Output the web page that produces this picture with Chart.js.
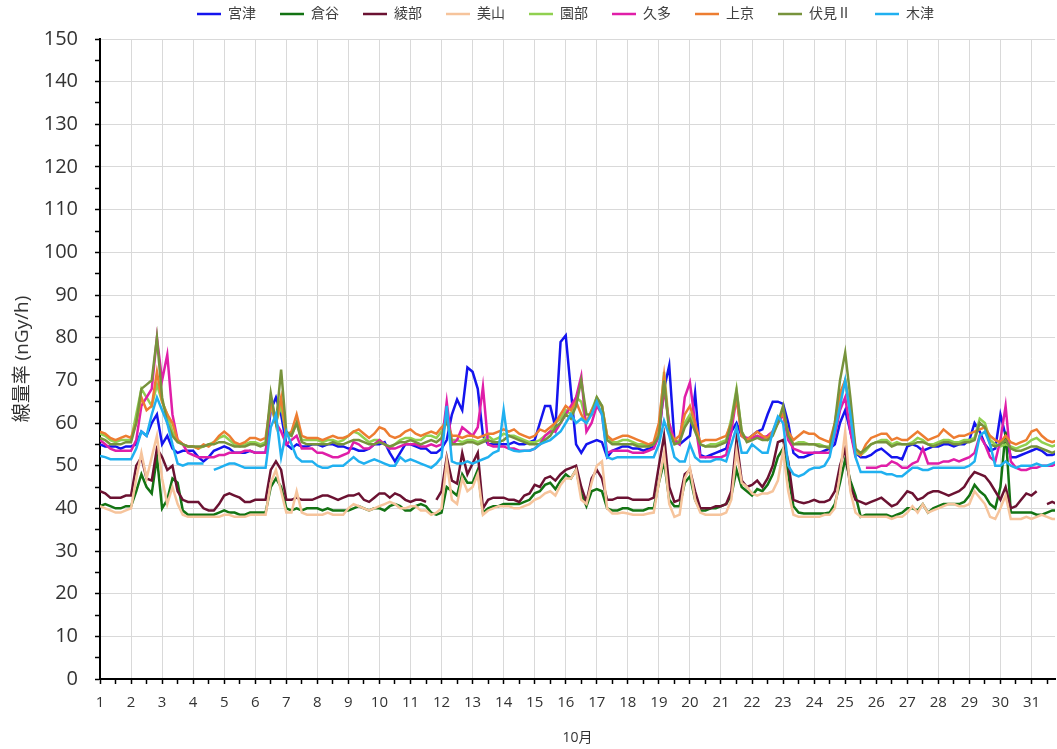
<!DOCTYPE html>
<html><head><meta charset="utf-8">
<script src="https://cdn.jsdelivr.net/npm/chart.js@4.4.1/dist/chart.umd.min.js"></script>
<style>html,body{margin:0;padding:0;overflow:hidden;background:#fff}#wrap{width:1057px;height:749px}</style>
</head><body><div id="wrap"><canvas id="c" width="1057" height="749"></canvas></div>
<script>
// Readings sampled every 4 hours (6 samples per day) from 10/1 0:00
const FIRST_DAY = 1;
const LAST_VISIBLE_DAY = 31.76;
const SAMPLES_PER_DAY = 6;
const stationNames = ['宮津','倉谷','綾部','美山','園部','久多','上京','伏見Ⅱ','木津'];
const xAxisTitle = '10月';
const yAxisTitle = '線量率 (nGy/h)';

const miyazu = [
55,54.5,54.5,54.5,54,54.5,
54.5,55,58,57,60,62,
55,57,54,53,53.5,53.5,
53.5,52,51,52,53.5,54,
54.5,54,53,53,53,53.5,
53,53,53,63,66,62,
55,54,55,54.5,54.5,55,
55,54.5,55,55,54.5,54.5,
54,54,53.5,53.5,54,55,
55,55.5,53,51,53,55,
55,54.5,54,54,53,53,
54,56,62,65.5,63,73,
72,68,57,55,55,55,
55,55,55.5,55,55,55.5,
56,60,64,64,59,79,
80.5,67.5,55,53,55,55.5,
56,55.5,52,53.5,54,54.5,
54.5,54,54,53.5,54,54.5,
57,68,73.5,56,55,56,
57,67,52.5,52,52.5,53,
53.5,54,58,60,57,56,
57,58,58.5,62,65,65,
64.5,60,53,52,52,52.5,
53,53,53.5,54,55,60,
63,58,53,52,52,52.5,
53.5,54,53,52,52,51.5,
54.5,55,54.5,53.5,54,54.5,
54.5,55,55,54.5,55,55,
56,60,58,55,53.5,54,
62,57,52,52,52.5,53,
53.5,54,53.5,52.5,52.5,53];

const kuratani = [
40.5,41,40.5,40,40,40.5,
40.5,44,48,45,43.5,52,
40,42,47,46,39.5,38.5,
38.5,38.5,38.5,38.5,38.5,39,
39.5,39,39,38.5,38.5,39,
39,39,39,45,47,45,
40,39.5,40,39.5,40,40,
40,39.5,40,39.5,39.5,39.5,
39.5,40,40.5,40,39.5,40,
40,39.5,40.5,41,40.5,39.5,
39.5,40.5,41,40.5,39,38.5,
39,45,44,43,48,46,
46,49,39,40,40.5,40.5,
41,41,41,41,41.5,42,
43.5,44,45.5,46,44.5,46.5,
48,47,49,43.5,40.5,44,
44.5,44,40,39.5,39.5,40,
40,39.5,39.5,39.5,40,40,
46,51,42,40.5,40.5,46,
47.5,42,39.5,39.5,40,40,
40.5,41,43,49,45,44,
43,44.5,44,45.5,48,52,
54,48,40.5,39,38.8,38.8,
38.8,38.8,38.8,39,41,46,
51.5,46.5,43,38,38.5,38.5,
38.5,38.5,38.5,38,38.5,39,
40,40,39.5,41,39,40,
40.5,41,41,41,41,41.5,
43,45.5,44,43,41,40,
45,58,39,39,39,39,
39,38.5,38.5,39,39.5,39.5];

const ayabe = [
44,43.5,42.5,42.5,42.5,43,
43,50,52,47,46.5,54,
52,49,50,44,42,41.5,
41.5,41.5,40,39.5,39.5,41,
43,43.5,43,42.5,41.5,41.5,
42,42,42,49,51,49,
42,42,42.5,42,42,42,
42.5,43,43,42.5,42,42.5,
43,43,43.5,42,41.5,42.5,
43.5,43.5,42.5,43.5,43,42,
41.5,42,42,41.5,null,42,
44,52,46.5,45.8,53,48,
50.5,53,40,42,42.5,42.5,
42.5,42,42,41.5,43,43.5,
45.5,45,47,47.5,46.5,48,
49,49.5,50,45,41.5,47,
49,47,42,42,42.5,42.5,
42.5,42,42,42,42,42.5,
50,57,45,41.5,42,48,
49,44,40,40,40,40.5,
40.5,41,44,56,46.5,45,
45.5,46.5,45,47,50,55.5,
56,51,42,41.5,41.2,41.5,
42,41.5,41.5,42,44,50,
54,45,42,41.5,41,41.5,
42,42.5,41.5,40.5,41,42.5,
44,43.5,42,42.5,43.5,44,
44,43.5,43,43.5,44,45,
47,48.5,48,47.5,46,44,
42,45,40,40.5,42,43.5,
43,44,null,41,41.5,41];

const miyama = [
40.5,40,39.5,39,39,39.5,
40,47,53,47,52,57,
47,41,45,41,38.5,38,
38,38,38,38,38,38,
38.5,38.5,38,38,38,38.5,
38.5,38.5,38.5,46,49,44,
39,39,44,39,38.5,38.5,
38.5,38.5,39,38.5,38.5,38.5,
40,41,40.5,40,39.5,40,
40.5,41,41.5,41,40,40,
40.5,40.5,39.5,39.5,38.5,39,
40,51,42,41,47,44,
45,48,38.5,39.5,40,40.5,
40.5,40.5,40,40,40.5,41,
42,42.5,43.5,44,43,45.5,
47,47,49,42,41,46,
50,51,40,38.8,38.8,39,
38.8,38.5,38.5,38.5,38.8,39,
46,53,41,38,38.5,47,
49.5,42,39,38.5,38.5,38.5,
38.5,39,42,53.5,46,45,
43.5,43,43.5,43.5,44,46.5,
53.5,44,38.5,38,38,38,
38,38,38.5,38.5,40,48,
58,44,39,38,38,38,
38,38,38,37.5,38,38,
39,40.5,39,41,39,39.5,
40,40.5,41,41,40.5,40.5,
41,44,42.5,41,38,37.5,
40,43,37.5,37.5,37.5,38,
37.5,38,38.5,38,37.5,37.5];

const sonobe = [
57.5,57,56,55.5,56,56,
56,62,68,66,64,69,
65,62,58,56,55,54.5,
54.5,54,54.5,55,55.5,56.5,
57,56,55,54.5,55,55.5,
55.5,55,55.5,64,60,64,
57,57,60,56,56,56,
56,55.5,56,56,55.5,56,
57,58,57.5,56.5,55.5,56,
56,55,54,55,56,56.5,
56.5,56,56,57,57,56.5,
58,62,56,56,55.5,56,
56,55.5,56,57,56,56.5,
57.5,57,57,56.5,56,55.5,
55.5,56,57,58,60,61,
63,62,66,65,60,63,
66,64,57,55.5,55.5,56,
56,55.5,55,55,54.5,55,
58,72,59,55.5,56,60,
62,59,55,54.5,55,55,
55.5,56,61,68,58,56,
56.5,57,56.5,56,57.5,60,
63,57,55,55.5,55.5,55,
55,55,54.5,54.5,59,66,
70,62,53,52.5,53.5,55,
55.5,56,56,55,55.5,55,
55,55.5,56.5,56,55,55,
55.5,56,56,55.5,55.5,56,
56,56.5,61,60,56,55,
54.5,55,54.5,54,54.5,55,
56,56.5,55.5,55,54.5,55];

const kuta = [
56,55,54,53.5,53.5,53.5,
53.5,56,64,66,68,80,
70,76,62,56,55,53,
52.5,52,52,52,52,52.5,
52.5,53,53,53,53.5,53.5,
53,53,53,66,60,58,
55,56,57,54,54,54,
53,53,52.5,52,52,52.5,
53,55.5,55,54,54,55,
56,55,54,54,54.5,55,
55,55,54.5,54.5,55,54.5,
55,65,55,56,59,58,
57,59,68.5,55,54.5,54.5,
54.5,54,54,53.5,53.5,53.5,
54,55,57,58,58,60,
62,64,66,71,58,60,
64,62,53,53.5,53.5,53.5,
53.5,53,53,53,53.5,54,
57,68,60,56,55,66,
69.5,60,52,52,52,52,
52,52.5,58,66,57,56.5,
56.5,57,56.5,57,58,60,
62,56,54,53.5,53,53,
53,53,53,53,57,63,
66,58,52,null,49.5,49.5,
49.5,50,50,51,50.5,49.5,
49.5,50.5,51,54,50.5,50.5,
50.5,51,51,51.5,51,51.5,
52,53,57,55,52,51,
56,64,51,49.5,49,49,
49.5,49.5,50,50,50,50.5];

const jokyo = [
58,57.5,56.5,56,56.5,57,
56.5,60,66,63,64,72,
65,62,60,56,55,54.5,
54.5,54,55,54.5,55.5,57,
58,57,55.5,55,55.5,56.5,
56.5,56,56.5,65,60,66,
57,58,62,57,56.5,56.5,
56.5,56,56.5,57,56.5,56.5,
57,58,58.5,57.5,56.5,57.5,
59,58.5,57,56.5,57,58,
58.5,57.5,57,57.5,58,57.5,
59,60,57,57,56.5,57,
57,56.5,57,57.5,57.5,58,
58.5,58,58.5,57.5,57,56.5,
57,58.5,58,59,60,62,
64,63,65,62,60,63,
65,64,57,56,56.5,57,
57,56.5,56,55.5,55,55.5,
60,71,58,56,57,62,
64,60,55.5,56,56,56,
56.5,57,60,66,57,56,
57,58,57,56.5,58,61,
62,58,56,57,58,57.5,
57.5,56.5,56,55.5,60,67,
70,63,54,52.5,55,56.5,
57,57.5,57.5,56,56.5,56,
56,57,58,57,56,56.5,
57,58.5,57.5,56.5,57,57,
57.5,58,58.5,59,57,56,
55.5,57,55.5,55,55.5,56,
58,58.5,57,56,55.5,56];

const fushimi2 = [
56.5,56,55,55,55,55.5,
55.5,60,68,69,70,80,
66,60,57,55.5,55,54.5,
54.5,54.5,54.5,55,55,55.5,
55.5,55,54.5,54.5,54.5,55,
55,54.5,55,67,60,72.5,
58,57,60,55.5,55,55,
55,55,55,55.5,55,55,
55.5,56,56,55.5,55,55,
55.5,55,54.5,55,55.5,55.5,
56,55.5,55,55.5,56,55.5,
56.5,61,55,55,55,55.5,
55.5,55,55.5,56,55.5,55.5,
56,57,56.5,56,55.5,55,
55,55,56,57,59,60,
62,61,64,70,62,62,
66,64,56,55,55,55,
55,55,54.5,54.5,54.5,55,
57,70,58,55,55.5,59,
61,58,55,54.5,54.5,54.5,
55,55.5,60,67.5,58,55.5,
56,56.5,56,56,57,60,
64,57,55,55,55,55,
55,54.5,54.5,54,60,70,
76.5,66,54,53,54,55,
55.5,55.5,55.5,54.5,55,55,
55,55,55.5,55.5,55,54.5,
55,55.5,55.5,55,55,55.5,
55.5,56,60,59,55,54.5,
55,56,54,53.5,53.5,54,
54.5,54.5,54,53.5,53,53.5];

const kizu = [
52.3,52,51.5,51.5,51.5,51.5,
51.5,54,58,57,62,66,
63,60,55,50.5,50,50.5,
50.5,50.5,50.5,null,49,49.5,
50,50.5,50.5,50,49.5,49.5,
49.5,49.5,49.5,59,62,52,
58,55,52,51,51,51,
50,49.5,49.5,50,50,50,
51,52,51,50.5,51,51.5,
51,50.5,50,50,52,51,
51.5,51,50.5,50,49.5,50.5,
52,64,51,50.5,50.5,51,
50.5,51,51.5,52,53,53.5,
63,54,53.5,53.3,53.5,53.5,
54,55,55.5,56,57,58,
60,62,60,61,60,62,
65,62,52,51.5,52,52,
52,52,52,52,52,52,
55,60.5,57,52,51,51,
55,52,51,51,51,51.5,
51.5,51,55,59,53,53,
55,54,53,53,58,61.5,
60,50,48,47.5,48,49,
49.5,49.5,50,52,58,64,
70,62,52,48.5,48.5,48.5,
48.5,48.5,48,48,47.5,47.5,
48.5,49.5,49.5,49,49,49.5,
49.5,49.5,49.5,49.5,49.5,49.5,
50,51,57,58,55,50,
50,51,50,49.5,50,50,
50,50.5,50,50,50.5,51];

const seriesValues = [miyazu, kuratani, ayabe, miyama, sonobe, kuta, jokyo, fushimi2, kizu];
const seriesColors = ['#1414ee','#137313','#6b1232','#f6c49c','#90d050','#e01ea8','#ed7d31','#77933c','#20b0f0'];

const FONT = '"Open Sans", "Noto Sans CJK JP", sans-serif';
const isWhole = v => Math.abs(v - Math.round(v)) < 1e-6;

const datasets = seriesValues.map((vals, i) => ({
  label: stationNames[i],
  data: vals.map((v, k) => ({x: FIRST_DAY + k / SAMPLES_PER_DAY, y: v})),
  borderColor: seriesColors[i],
  backgroundColor: seriesColors[i],
  borderWidth: 2.5,
  pointRadius: 0,
  tension: 0,
  spanGaps: false,
  order: seriesValues.length - 1 - i
}));

const legendAdjust = {
  id: 'legendAdjust',
  beforeLayout(chart) {
    const lg = chart.legend;
    if (lg && !lg.__patched) {
      const f = lg.fit;
      lg.fit = function () { f.call(this); this.height += 8; };
      lg.__patched = true;
    }
  },
  afterLayout(chart) {
    const lg = chart.legend;
    if (lg) { lg.left += 37; lg.right += 37; }
  }
};

new Chart(document.getElementById('c'), {
  type: 'line',
  data: { datasets },
  options: {
    responsive: false,
    animation: false,
    layout: { padding: { top: -17, left: 0, right: 0, bottom: 0 } },
    plugins: {
      legend: {
        position: 'top',
        labels: {
          usePointStyle: true, pointStyle: 'line', pointStyleWidth: 24,
          padding: 24, color: '#404040',
          font: { size: 14, family: FONT },
          sort: (a, b) => a.datasetIndex - b.datasetIndex
        }
      },
      tooltip: { enabled: false }
    },
    scales: {
      x: {
        type: 'linear', min: FIRST_DAY, max: LAST_VISIBLE_DAY,
        afterFit: s => { s.height = 70; },
        ticks: {
          stepSize: 0.5, includeBounds: false, autoSkip: false, maxRotation: 0, minRotation: 0, padding: 10,
          color: '#333', font: { size: 15, family: FONT },
          callback: v => isWhole(v) ? String(Math.round(v)) : ''
        },
        grid: {
          color: c => (c.tick && isWhole(c.tick.value)) ? '#d9d9d9' : 'rgba(0,0,0,0)',
          tickColor: '#000', tickLength: 5, tickWidth: 1.5, lineWidth: 1
        },
        border: { color: '#000', width: 2 },
        title: { display: true, text: xAxisTitle, color: '#333', font: { size: 14, family: FONT }, padding: { top: 0, bottom: 3 } }
      },
      y: {
        min: 0, max: 150,
        afterFit: s => { s.width = 100; },
        ticks: {
          stepSize: 5, autoSkip: false, padding: 17,
          color: '#333', font: { size: 20, family: FONT },
          callback: v => (Math.round(v) % 10 === 0) ? String(Math.round(v)) : ''
        },
        grid: {
          color: c => (c.tick && Math.round(c.tick.value) % 10 === 0) ? '#d9d9d9' : 'rgba(0,0,0,0)',
          tickColor: '#000', tickLength: 5, tickWidth: 1.5, lineWidth: 1
        },
        border: { color: '#000', width: 2 },
        title: { display: true, text: yAxisTitle, color: '#333', font: { size: 19, family: FONT }, padding: { top: 11, bottom: 0 } }
      }
    }
  },
  plugins: [legendAdjust]
});
</script></body></html>
